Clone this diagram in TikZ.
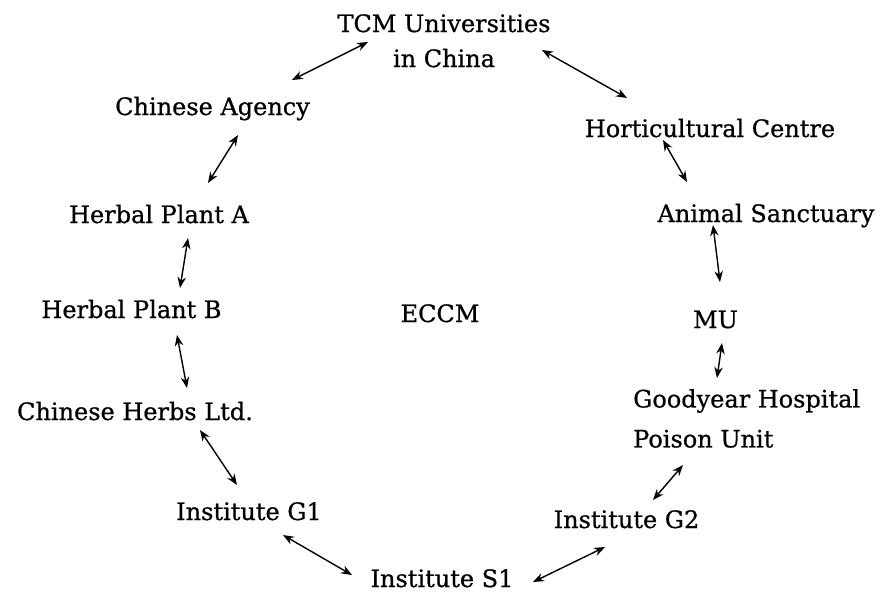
\documentclass[tikz,border=0pt]{standalone}
\usepackage{fontspec}
\setmainfont{DejaVu Serif}[FakeBold=0.7]
\usetikzlibrary{arrows.meta}
\begin{document}
\begin{tikzpicture}[x=1pt,y=-1pt,
  label/.style={inner sep=0pt, font=\fontsize{24}{35}\selectfont},
  link/.style={{Stealth[length=11pt,width=8.5pt]}-{Stealth[length=11pt,width=8.5pt]}, line width=1.4pt}]
\useasboundingbox (0,0) rectangle (885,598);
\fill[white] (0,0) rectangle (885,598);

% organisations around the centre
\node[label, align=center, anchor=north] (tcm) at (444,14) {TCM Universities\\in China};
\node[label, anchor=base] (agency)  at (212.5,115) {Chinese Agency};
\node[label, anchor=base] (hort)    at (710,137)   {Horticultural Centre};
\node[label, anchor=base] (herba)   at (159,223)   {Herbal Plant A};
\node[label, anchor=base] (animal)  at (766,222)   {Animal Sanctuary};
\node[label, anchor=base] (herbb)   at (131.5,318) {Herbal Plant B};
\node[label, anchor=base] (eccm)    at (440,322)   {ECCM};
\node[label, anchor=base] (mu)      at (715.5,328) {MU};
\node[label, anchor=base] (chherbs) at (135,420)   {Chinese Herbs Ltd.};
\node[label, align=left, anchor=north west] (good) at (633,389) {Goodyear Hospital\\[5pt]Poison Unit};
\node[label, anchor=base] (g1)      at (249,520)   {Institute G1};
\node[label, anchor=base] (g2)      at (626.5,528) {Institute G2};
\node[label, anchor=base] (s1)      at (442,587)   {Institute S1};

% two-way links
\draw[link] ([shift={(-76,28)}]tcm.north)   -- ([shift={(79.5,-35)}]agency.base);
\draw[link] ([shift={(98,36)}]tcm.north)    -- ([shift={(-83,-39)}]hort.base);
\draw[link] ([shift={(25.5,20)}]agency.base) -- ([shift={(49,-40)}]herba.base);
\draw[link] ([shift={(-47,3)}]hort.base)    -- ([shift={(-79,-40)}]animal.base);
\draw[link] ([shift={(29,15)}]herba.base)   -- ([shift={(48.5,-30)}]herbb.base);
\draw[link] ([shift={(-53,3)}]animal.base)  -- ([shift={(4.5,-46)}]mu.base);
\draw[link] ([shift={(45.5,17)}]herbb.base) -- ([shift={(52,-32)}]chherbs.base);
\draw[link] ([shift={(6.5,15)}]mu.base)     -- ([shift={(84,-11)}]good.north west);
\draw[link] ([shift={(50,76)}]good.north west) -- ([shift={(26.5,-28)}]g2.base);
\draw[link] ([shift={(-21.5,19)}]g2.base)   -- ([shift={(91,-5)}]s1.base);
\draw[link] ([shift={(34,15)}]g1.base)      -- ([shift={(-90,-12)}]s1.base);
\draw[link] ([shift={(65,10)}]chherbs.base) -- ([shift={(-12,-35)}]g1.base);
\end{tikzpicture}
\end{document}
